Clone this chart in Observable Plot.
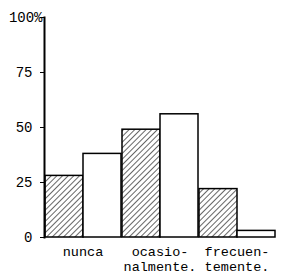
<!DOCTYPE html>
<html><head><meta charset="utf-8">
<script src="https://cdn.jsdelivr.net/npm/d3@7"></script>
<script src="https://cdn.jsdelivr.net/npm/@observablehq/plot@0.6"></script>
<style>body{margin:0;background:#fff}</style>
</head><body><div id="chart"></div>
<script>
const categories = ["nunca", "ocasio-\nnalmente.", "frecuen-\ntemente."];
const seriesNames = ["hatched", "white"];
const hatchedValues = [28, 49, 22];
const whiteValues = [38, 56, 3];
const yTicks = [0, 25, 50, 75];
const topTick = [100];

const data = categories.flatMap((c, i) => [
  {category: c, series: seriesNames[0], value: hatchedValues[i]},
  {category: c, series: seriesNames[1], value: whiteValues[i]}
]);

const chart = Plot.plot({
  width: 296, height: 275,
  marginLeft: 44, marginRight: 21, marginTop: 17, marginBottom: 38,
  style: {fontFamily: "'Liberation Mono', 'DejaVu Sans Mono', monospace", fontSize: "14px", background: "white", color: "black"},
  fx: {domain: categories, padding: 0, label: null},
  x: {domain: seriesNames, padding: 0, axis: null},
  y: {domain: [0, 100], axis: null},
  marks: [
    Plot.barY(data.filter(d => d.series === seriesNames[0]), {fx: "category", x: "series", y: "value", fill: "url(#hatch)", stroke: "black", strokeWidth: 1.5}),
    Plot.barY(data.filter(d => d.series === seriesNames[1]), {fx: "category", x: "series", y: "value", fill: "white", stroke: "black", strokeWidth: 1.5}),
    Plot.frame({anchor: "left", stroke: "black", strokeWidth: 2, facetAnchor: "left"}),
    Plot.axisFx({anchor: "bottom", tickSize: 0, tickPadding: 8, label: null, lineHeight: 1.12, fontSize: 13.5}),
    Plot.axisY(yTicks, {tickSize: 4, tickPadding: 8, label: null, fontSize: 14}),
    Plot.axisY(topTick, {tickSize: 4, tickPadding: -2, tickFormat: d => d + "%", label: null, fontSize: 14})
  ]
});
chart.insertAdjacentHTML("afterbegin",
  '<defs><pattern id="hatch" patternUnits="userSpaceOnUse" width="4" height="4" patternTransform="rotate(45)"><rect width="4" height="4" fill="white"/><line x1="0" y1="0" x2="0" y2="4" stroke="black" stroke-width="1.2"/></pattern></defs>');
document.getElementById("chart").appendChild(chart);
</script>
</body></html>
